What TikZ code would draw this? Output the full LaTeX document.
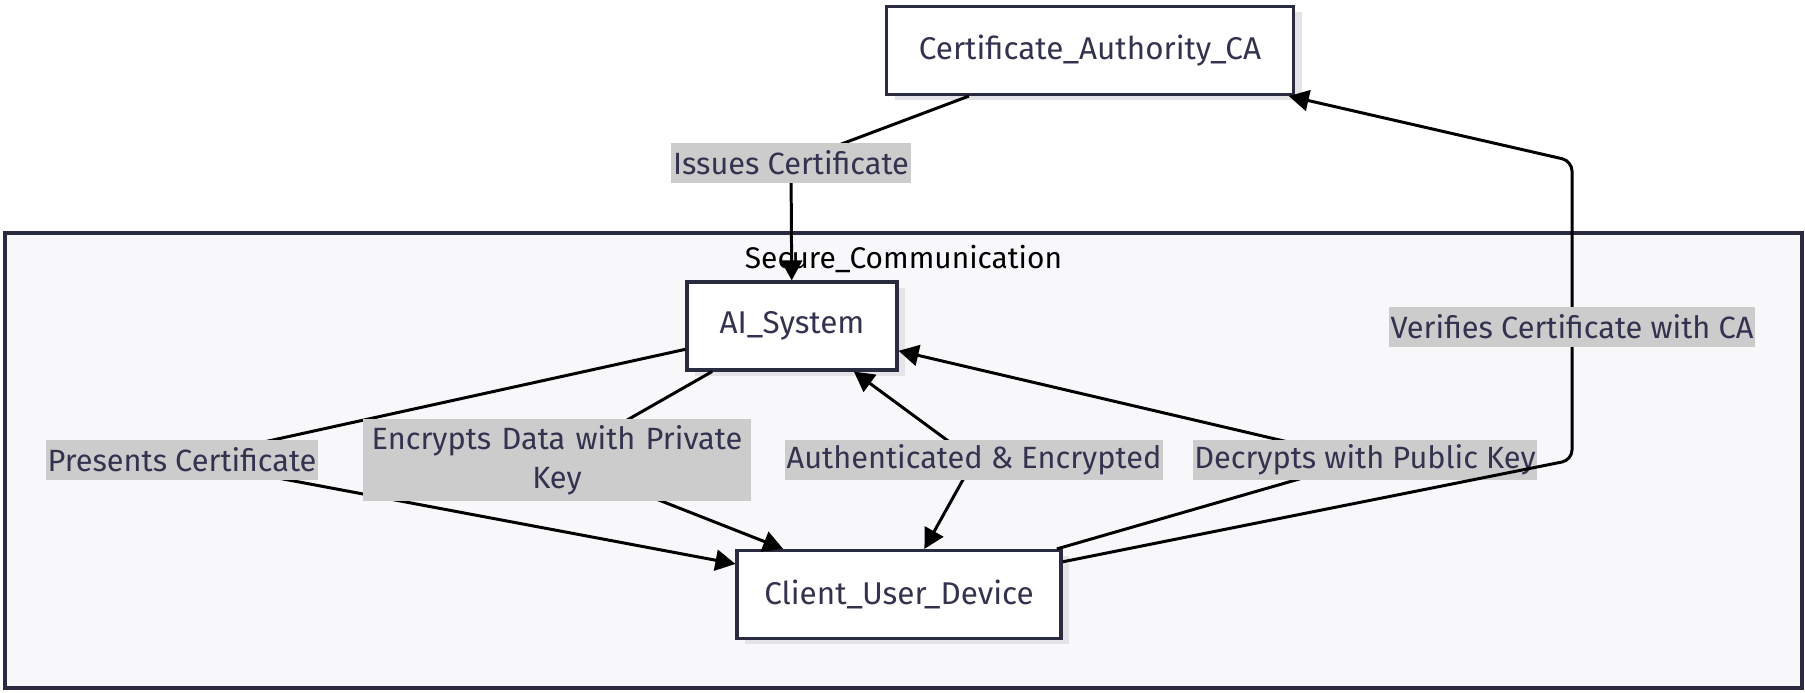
\documentclass[tikz,border=0pt]{standalone}
\usepackage{fontspec}
\setmainfont{Fira Sans}
\usepackage{tikz}
\usetikzlibrary{arrows.meta, positioning, shadows}

\definecolor{boxline}{HTML}{2B2B40}
\definecolor{boxtext}{HTML}{333350}
\definecolor{labelbg}{HTML}{CCCCCC}
\definecolor{clusterbg}{HTML}{F8F8FA}
\definecolor{shadowgray}{HTML}{E4E4E8}

\begin{document}
\begin{tikzpicture}[
        box/.style={rectangle, draw=boxline, fill=white, line width=1.8pt, minimum height=1.76cm, align=center, text=boxtext, font=\fontsize{17.9}{20}\selectfont, drop shadow={shadow xshift=0.16cm, shadow yshift=-0.12cm, fill=shadowgray, opacity=1}},
        cluster/.style={rectangle, draw=boxline, fill=clusterbg, line width=1.8pt, minimum width=35.94cm, minimum height=9.1cm},
        lbl/.style={rectangle, sharp corners, fill=labelbg, text=boxtext, inner xsep=1pt, inner ysep=0pt, minimum height=0.8cm, align=center, font=\fontsize{17.5}{22}\selectfont},
        arrow/.style={-{Triangle[length=0.4cm, width=0.42cm]}, line width=1.7pt},
        biarrow/.style={{Triangle[length=0.4cm, width=0.42cm]}-{Triangle[length=0.4cm, width=0.42cm]}, line width=1.7pt}
    ]
        \useasboundingbox[fill=white] (0,0) rectangle (36.1,13.86);

        % Group
        \node[cluster] (secure) at (18.07,4.65) {};
        \node[below=0.16cm of secure.north, font=\fontsize{17}{20}\selectfont] (secureTitle) {Secure\_Communication};

        % Nodes
        \node[box, minimum width=8.14cm] (ca) at (21.8, 12.85) {Certificate\_Authority\_CA};
        \node[box, minimum width=4.2cm] (ai) at (15.84, 7.34) {AI\_System};
        \node[box, minimum width=6.48cm] (client) at (17.98, 1.97) {Client\_User\_Device};

        % Label positions and bends
        \coordinate (issuesAt) at (15.82, 10.6);
        \coordinate (presentsAt) at (3.64, 4.66);
        \coordinate (encryptsAt) at (11.14, 4.66);
        \coordinate (authAt) at (19.48, 4.66);
        \coordinate (decryptsAt) at (27.3, 4.66);
        \coordinate (lowBend) at (31.44, 4.66);
        \coordinate (highBend) at (31.44, 10.64);

        % Connectors
        \draw[arrow] (ca) -- (issuesAt) node[lbl] (issues) {Issues Certificate} -- (ai);
        \draw[arrow] (ai) -- (presentsAt) node[lbl] (presents) {Presents Certificate} -- (client);
        \draw[arrow] (ai) -- (encryptsAt) node[lbl, text width=7.7cm, minimum height=1.64cm] (encrypts) {Encrypts Data with Private\\Key} -- (client);
        \draw[biarrow] (ai) -- (authAt) node[lbl] (auth) {Authenticated \& Encrypted} -- (client);
        \draw[arrow] (client) -- (decryptsAt) node[lbl] (decrypts) {Decrypts with Public Key} -- (ai);
        \draw[arrow, rounded corners=0.2cm] (client) -- (lowBend) -- node[lbl, pos=0.445] (verifies) {Verifies Certificate with CA} (highBend) -- (ca);
    \end{tikzpicture}
\end{document}
